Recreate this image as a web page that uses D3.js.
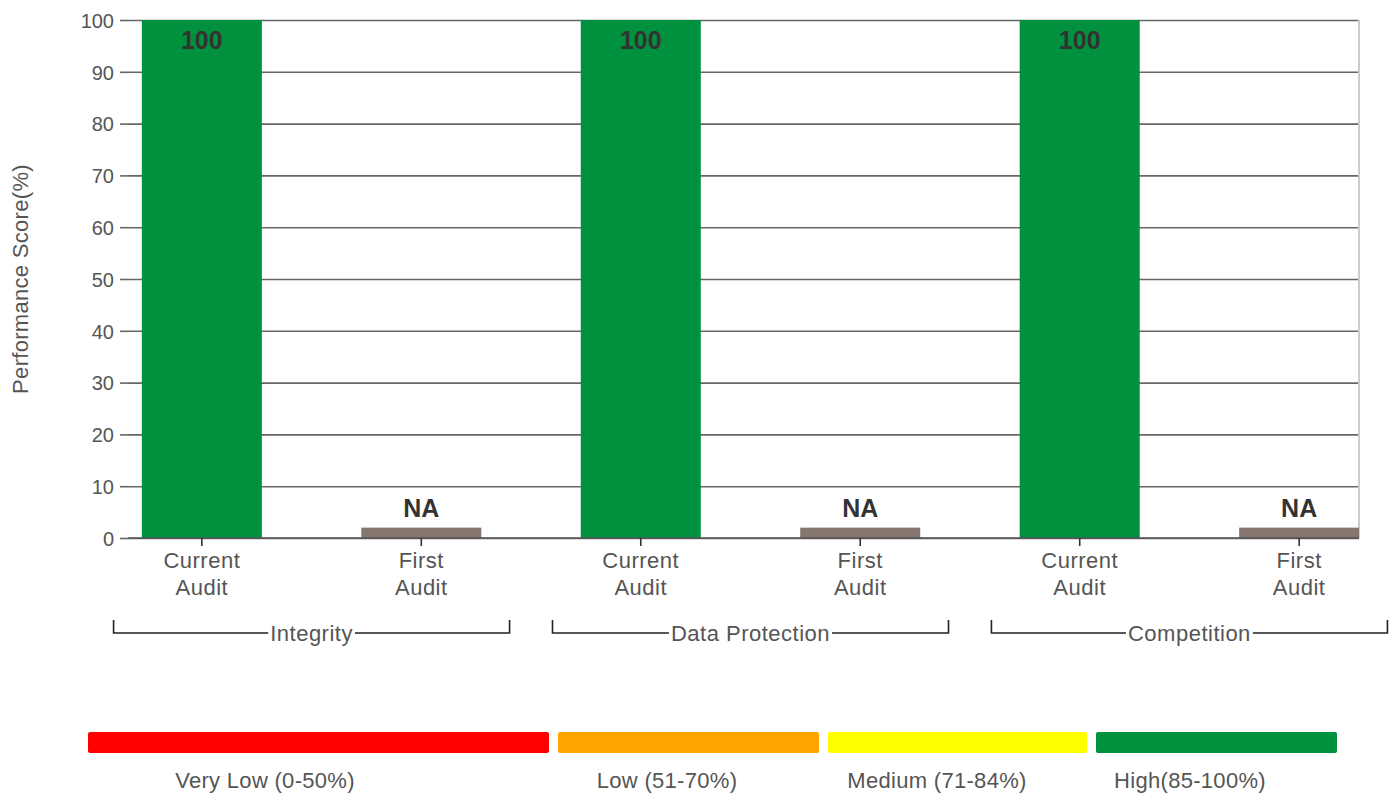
<!DOCTYPE html>
<meta charset="utf-8">
<script src="https://d3js.org/d3.v7.min.js"></script>
<style>
  body { margin: 0; background: #fff; }
  text { font-family: "Liberation Sans", Arial, sans-serif; }
</style>
<svg id="chart" width="1396" height="795"></svg>
<script>

    // data
    var groups = ["Integrity", "Data Protection", "Competition"];
    var audits = ["Current Audit", "First Audit"];
    var scores = [100, null, 100, null, 100, null];   // null = not available
    var barLabels = ["100", "NA", "100", "NA", "100", "NA"];
    var yTicks = [0, 10, 20, 30, 40, 50, 60, 70, 80, 90, 100];
    var bandNames = ["Very Low (0-50%)", "Low (51-70%)", "Medium (71-84%)", "High(85-100%)"];
    var bandColors = ["#ff0000", "#ffa500", "#ffff00", "#00913f"];

    var svg = d3.select("#chart");

    // plot area
    var plotL = 128, plotR = 1359, plotT = 20, plotB = 538;
    var naStub = 2;   // height drawn for an NA bar

    var cats = [];
    groups.forEach(function(g){ audits.forEach(function(a){ cats.push(g + "|" + a) }) });

    var x = d3.scaleBand()
        .domain(cats)
        .range([92, 92 + 6 * 219.5])
        .paddingInner(0.453)
        .paddingOuter(0.227);

    var y = d3.scaleLinear().domain([0, 100]).range([plotB, plotT]);

    // gridlines + y axis
    var yAxis = svg.append("g")
        .attr("transform", "translate(" + plotL + ",0)")
        .call(d3.axisLeft(y).tickValues(yTicks).tickSize(-(plotR - plotL)).tickPadding(14));
    yAxis.select(".domain").remove();
    yAxis.selectAll(".tick line").attr("stroke", "#666").attr("stroke-width", 1.6);
    yAxis.selectAll(".tick")
      .append("line")
        .attr("x1", -8).attr("x2", 0)
        .attr("stroke", "#666").attr("stroke-width", 1.6);
    yAxis.selectAll(".tick text")
        .attr("fill", "#555")
        .style("font-size", "20px")
        .style("font-family", "'Liberation Sans', Arial, sans-serif")
        .attr("dy", "0.36em");

    // right border
    svg.append("line")
        .attr("x1", plotR).attr("x2", plotR)
        .attr("y1", plotT).attr("y2", plotB)
        .attr("stroke", "#ccc").attr("stroke-width", 2);

    // clip bars to the plot
    svg.append("clipPath").attr("id", "plot")
      .append("rect")
        .attr("x", plotL).attr("y", 0)
        .attr("width", plotR - plotL).attr("height", plotB);

    var bars = svg.append("g").attr("clip-path", "url(#plot)");
    bars.selectAll("rect")
        .data(cats)
        .enter()
        .append("rect")
          .attr("x", function(d){ return x(d) })
          .attr("width", x.bandwidth())
          .attr("y", function(d, i){ return y(scores[i] == null ? naStub : scores[i]) })
          .attr("height", function(d, i){ return plotB - y(scores[i] == null ? naStub : scores[i]) })
          .attr("fill", function(d, i){ return scores[i] == null ? "#857770" : "#00913f" });

    // bar labels
    svg.selectAll(".barlabel")
        .data(cats)
        .enter()
        .append("text")
          .attr("class", "barlabel")
          .attr("x", function(d){ return x(d) + x.bandwidth() / 2 })
          .attr("y", function(d, i){
              return scores[i] == null ? y(naStub) - 11 : y(scores[i]) + 29 })
          .attr("text-anchor", "middle")
          .attr("fill", "#333")
          .style("font-size", "25px")
          .style("font-weight", "bold")
          .text(function(d, i){ return barLabels[i] });

    // x axis baseline
    svg.append("line")
        .attr("x1", plotL).attr("x2", plotR)
        .attr("y1", plotB).attr("y2", plotB)
        .attr("stroke", "#555").attr("stroke-width", 1.6);

    // category ticks and two-line labels
    var xt = svg.append("g").selectAll("g")
        .data(cats)
        .enter()
        .append("g")
          .attr("transform", function(d){ return "translate(" + (x(d) + x.bandwidth() / 2) + "," + plotB + ")" });
    xt.append("line").attr("y2", 8).attr("stroke", "#333").attr("stroke-width", 1.6);
    xt.each(function(d){
        var words = d.split("|")[1].split(" ");
        d3.select(this).selectAll("text")
            .data(words)
            .enter()
            .append("text")
              .attr("y", function(w, j){ return 30 + j * 27 })
              .attr("text-anchor", "middle")
              .attr("fill", "#555")
              .style("font-size", "22px")
              .style("letter-spacing", "0.5px")
              .text(function(w){ return w });
    });

    // group brackets
    groups.forEach(function(g){
        var c1 = x(g + "|" + audits[0]) + x.bandwidth() / 2,
            c2 = x(g + "|" + audits[1]) + x.bandwidth() / 2,
            mid = (c1 + c2) / 2, half = 198, by = 633;
        var gg = svg.append("g");
        var label = gg.append("text")
            .attr("x", mid).attr("y", by + 8)
            .attr("text-anchor", "middle")
            .attr("fill", "#555")
            .style("font-size", "22px")
            .style("letter-spacing", "0.5px")
            .text(g);
        var tw = label.node().getComputedTextLength() / 2 + 2;
        gg.append("path")
            .attr("d", "M" + (mid - half) + "," + (by - 13) + "V" + by + "H" + (mid - tw))
            .attr("fill", "none").attr("stroke", "#222").attr("stroke-width", 1.6);
        gg.append("path")
            .attr("d", "M" + (mid + tw) + "," + by + "H" + (mid + half) + "V" + (by - 13))
            .attr("fill", "none").attr("stroke", "#222").attr("stroke-width", 1.6);
    });

    // y title
    svg.append("text")
        .attr("transform", "translate(28," + ((plotT + plotB) / 2) + ") rotate(-90)")
        .attr("text-anchor", "middle")
        .attr("fill", "#555")
        .style("font-size", "22px")
        .style("letter-spacing", "0.3px")
        .text("Performance Score(%)");

    // legend
    var legX = [88, 558, 828, 1096], legW = [461, 261, 259, 241], legText = [265, 667, 937, 1190];
    var leg = svg.append("g");
    leg.selectAll("rect")
        .data(bandNames)
        .enter()
        .append("rect")
          .attr("x", function(d, i){ return legX[i] })
          .attr("y", 732)
          .attr("width", function(d, i){ return legW[i] })
          .attr("height", 21)
          .attr("rx", 2)
          .attr("fill", function(d, i){ return bandColors[i] });
    leg.selectAll("text")
        .data(bandNames)
        .enter()
        .append("text")
          .attr("x", function(d, i){ return legText[i] })
          .attr("y", 788)
          .attr("text-anchor", "middle")
          .attr("fill", "#555")
          .style("font-size", "22px")
          .style("letter-spacing", "0.3px")
          .text(function(d){ return d });

</script>
